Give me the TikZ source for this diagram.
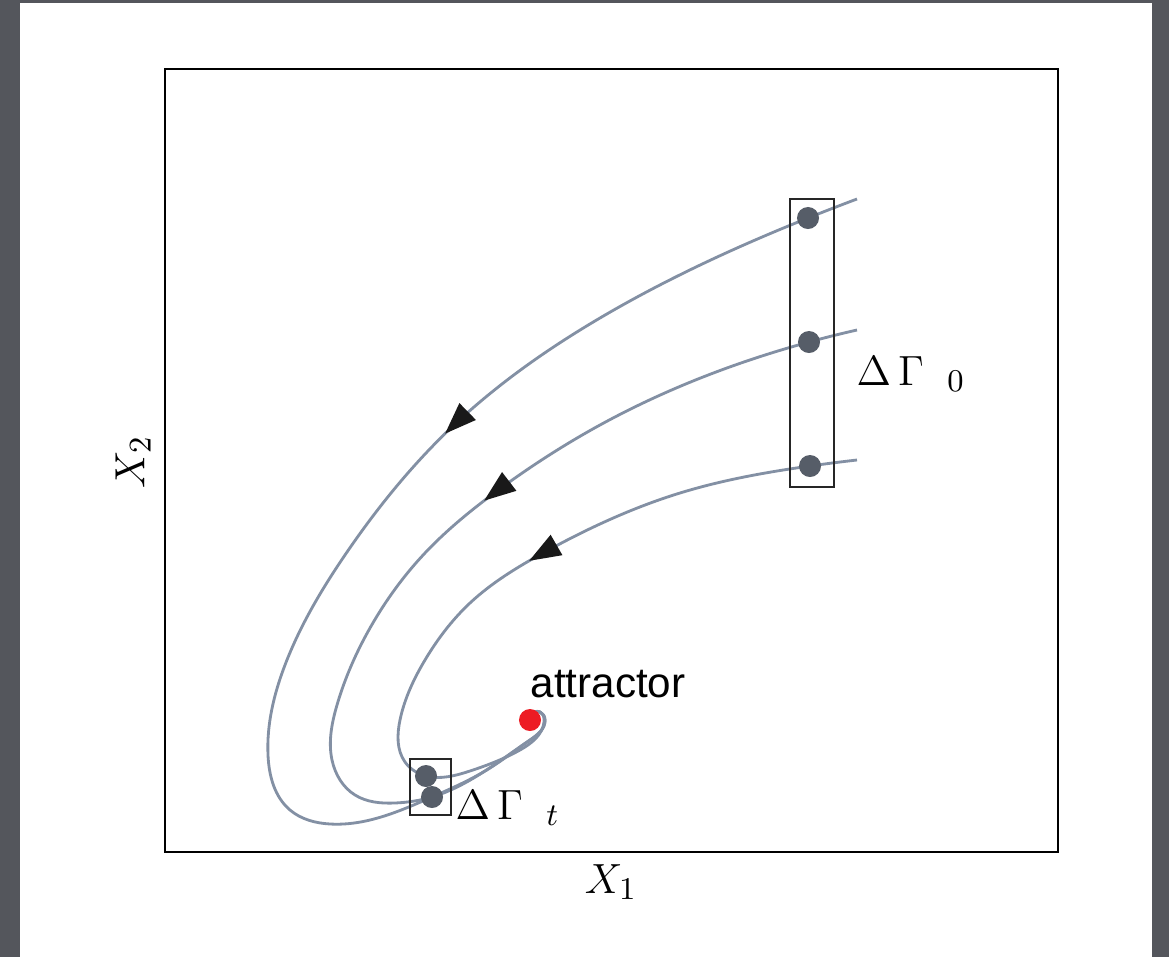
\documentclass[tikz,border=0pt]{standalone}
\usepackage{fontspec}
\newfontfamily\labelfont{Liberation Sans}
\usetikzlibrary{arrows.meta, decorations.markings, hobby}

\definecolor{pagegray}{RGB}{84,86,92}
\definecolor{trajgray}{RGB}{131,144,164}
\definecolor{dotgray}{RGB}{86,93,104}
\definecolor{attred}{RGB}{237,28,36}

\begin{document}
\begin{tikzpicture}[x=0.01cm, y=-0.01cm,
  traj/.style={trajgray, line width=0.8pt, use Hobby shortcut},
  flow/.style={postaction={decorate}, decoration={markings,
      mark=at position #1 with {\arrow{Triangle[length=9pt, width=6.5pt, color=black!90]}}}},
  state/.style={circle, fill=dotgray, inner sep=0pt, minimum size=0.22cm},
  framebox/.style={draw, black!85, line width=0.45pt, inner sep=0pt},
  mathlabel/.style={font=\fontsize{13}{15}\selectfont, inner sep=0pt}
]
  % page and margins
  \fill[pagegray] (0,0) rectangle (1169,957);
  \fill[white] (20,3) rectangle (1152,957);
  \useasboundingbox (0,0) rectangle (1169,957);

  \node[draw, line width=0.6pt, minimum width=8.93cm, minimum height=7.83cm, inner sep=0pt] (frame) at (611.5,460.5) {};

  % initial and final states
  \coordinate (p1) at (808,218);
  \coordinate (p2) at (809,342);
  \coordinate (p3) at (810,466);
  \coordinate (q1) at (426,776);
  \coordinate (q2) at (432,797);

  \draw[traj, flow=0.39] (857,199) .. (p1) .. (600,318) .. (453,426) .. (345,555) .. (285,665)
      .. (268,755) .. (290,810) .. (330,824) .. (q2) .. (490,768) .. (530,740) .. (545,720)
      .. (540,712) .. (531,716);
  \draw[traj, flow=0.41] (857,330) .. (p2) .. (600,425) .. (497,491) .. (425,553) .. (370,628)
      .. (337,705) .. (332,760) .. (355,795) .. (395,803) .. (q2) .. (488,769) .. (530,740)
      .. (545,720) .. (540,712) .. (531,716);
  \draw[traj, flow=0.44] (857,460) .. (p3) .. (680,493) .. (543,553) .. (470,603) .. (425,660)
      .. (400,720) .. (405,762) .. (q1) .. (470,771) .. (520,750) .. (544,722)
      .. (540,712) .. (531,716);

  \node[state] (d1) at (p1) {};
  \node[state] (d2) at (p2) {};
  \node[state] (d3) at (p3) {};
  \node[state] (e1) at (q1) {};
  \node[state] (e2) at (q2) {};
  \node[circle, fill=attred, inner sep=0pt, minimum size=0.22cm] (att) at (530,720) {};

  \node[framebox, minimum width=0.44cm, minimum height=2.88cm] (box0) at (812,343) {};
  \node[framebox, minimum width=0.41cm, minimum height=0.56cm] (boxt) at (430.5,787) {};

  \node[mathlabel, anchor=west] (gamma0) at (856,374) {$\Delta\,\Gamma\;\;{}_{0}$};
  \node[mathlabel, anchor=west] (gammat) at (455,808) {$\Delta\,\Gamma\;\;{}_{t}$};
  \node[font=\labelfont\fontsize{12}{14}\selectfont, inner sep=0pt] (attlabel) at (608,684) {attractor};

  \node[mathlabel] (xone) at (611,882) {$X_1$};
  \node[mathlabel, rotate=90] (xtwo) at (133,462) {$X_2$};
\end{tikzpicture}
\end{document}
